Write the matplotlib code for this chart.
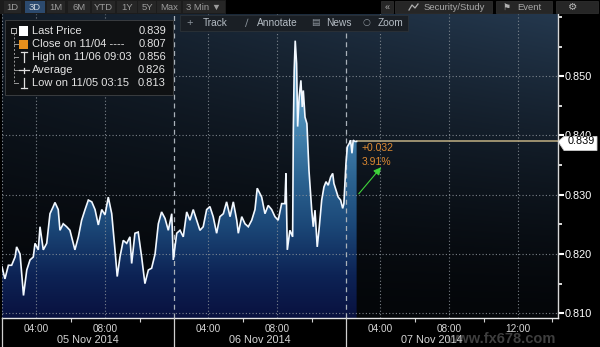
import numpy as np
import matplotlib
matplotlib.use("Agg")
import matplotlib.pyplot as plt
from matplotlib.colors import LinearSegmentedColormap
from matplotlib.patches import Rectangle, Polygon
from matplotlib.lines import Line2D
import matplotlib.transforms as mtransforms

plt.rcParams['font.family'] = ['Liberation Sans', 'DejaVu Sans']

# ---------------- data ----------------
# session hours since 05 Nov 02:00 (sessions 02:00-12:00 each day)
hours = [0.00, 0.17, 0.37, 0.56, 0.76, 0.85, 1.05, 1.25, 1.44, 1.63, 1.82, 1.92, 2.11, 2.21,
         2.40, 2.60, 2.79, 2.98, 3.08, 3.27, 3.37, 3.56, 3.76, 3.95, 4.24, 4.44, 4.63, 4.83,
         5.02, 5.22, 5.41, 5.60, 5.80, 5.99, 6.18, 6.38, 6.57, 6.70, 6.86, 7.05, 7.25, 7.44,
         7.54, 7.73, 7.92, 8.12, 8.31, 8.51, 8.70, 8.90, 9.09, 9.28, 9.48, 9.67, 9.87, 9.96,
         10.16, 10.35, 10.54, 10.74, 10.93, 11.12, 11.32, 11.51, 11.70, 11.90, 12.09, 12.28,
         12.48, 12.67, 12.87, 13.06, 13.26, 13.45, 13.65, 13.74, 13.94, 14.13, 14.32, 14.52,
         14.71, 14.84, 15.10, 15.29, 15.48, 15.68, 15.87, 16.06, 16.26, 16.45, 16.51, 16.59,
         16.74, 16.90, 16.94, 16.99, 17.05, 17.13, 17.19, 17.28, 17.38, 17.46, 17.52, 17.62,
         17.73, 17.85, 18.01, 18.10, 18.20, 18.33, 18.45, 18.59, 18.72, 18.84, 18.97, 19.11,
         19.23, 19.30, 19.42, 19.55, 19.69, 19.81, 19.88, 20.00, 20.08, 20.20, 20.27, 20.35,
         20.42, 20.52, 20.62]
prices = [0.8178, 0.8158, 0.8181, 0.8181, 0.8195, 0.8212, 0.8200, 0.8130, 0.8173, 0.8190,
          0.8195, 0.8218, 0.8207, 0.8246, 0.8207, 0.8218, 0.8268, 0.8280, 0.8287, 0.8275,
          0.8240, 0.8251, 0.8246, 0.8240, 0.8207, 0.8229, 0.8257, 0.8275, 0.8291, 0.8288,
          0.8275, 0.8249, 0.8275, 0.8266, 0.8296, 0.8268, 0.8207, 0.8162, 0.8195, 0.8223,
          0.8218, 0.8229, 0.8184, 0.8235, 0.8237, 0.8195, 0.8150, 0.8173, 0.8176, 0.8200,
          0.8251, 0.8271, 0.8260, 0.8240, 0.8268, 0.8190, 0.8235, 0.8240, 0.8229, 0.8271,
          0.8257, 0.8275, 0.8257, 0.8240, 0.8246, 0.8275, 0.8280, 0.8263, 0.8235, 0.8263,
          0.8268, 0.8288, 0.8263, 0.8288, 0.8257, 0.8235, 0.8263, 0.8251, 0.8246, 0.8257,
          0.8275, 0.8311, 0.8296, 0.8268, 0.8282, 0.8275, 0.8263, 0.8257, 0.8285, 0.8285,
          0.8336, 0.8207, 0.8240, 0.8229, 0.8409, 0.8510, 0.8560, 0.8521, 0.8415, 0.8465,
          0.8493, 0.8448, 0.8476, 0.8431, 0.8420, 0.8341, 0.8274, 0.8246, 0.8274, 0.8212,
          0.8246, 0.8291, 0.8313, 0.8322, 0.8316, 0.8330, 0.8336, 0.8319, 0.8308, 0.8296,
          0.8291, 0.8277, 0.8285, 0.8353, 0.8381, 0.8387, 0.8392, 0.8370, 0.8392, 0.8390,
          0.8390]

last_price = 0.839
y_ticks = [0.810, 0.820, 0.830, 0.840, 0.850]
y_minor = [0.815, 0.825, 0.835, 0.845, 0.855, 0.860]
hour_ticks = [2, 6, 12, 16, 22, 26, 30]
hour_labels = ['04:00', '08:00', '04:00', '08:00', '04:00', '08:00', '12:00']
hour_minor = [4, 8, 14, 18, 24, 28, 32]
day_bounds = [10, 20]
day_centers = [5, 15, 25]
day_labels = ['05 Nov 2014', '06 Nov 2014', '07 Nov 2014']
legend_labels = ['Last Price', 'Close on 11/04 ----', 'High on 11/06 09:03', 'Average', 'Low on 11/05 03:15']
legend_values = ['0.839', '0.807', '0.856', '0.826', '0.813']
change_text = ['+0.032', '3.91%']

# ---------------- figure ----------------
W, H = 600, 347
fig = plt.figure(figsize=(W / 100, H / 100), dpi=100, facecolor='black')

def fx(x):
    return x / W

def fy(y):
    return 1 - y / H

ax = fig.add_axes([fx(2), fy(318), (558 - 2) / W, (318 - 14) / H])
xmin, xmax = 0, 32.33
ymin, ymax = 0.8092, 0.8605
ax.set_xlim(xmin, xmax)
ax.set_ylim(ymin, ymax)

# background gradient
ny, nx = 200, 200
yy = np.linspace(0, 1, ny)[:, None]
xx = np.linspace(0, 1, nx)[None, :]
f = (yy ** 1.4) * (0.45 + 0.55 * xx)
c0 = np.array([4, 6, 9]) / 255
c1 = np.array([36, 56, 78]) / 255
bg = c0[None, None, :] + (c1 - c0)[None, None, :] * f[:, :, None]
ax.imshow(bg, extent=[0, 1, 0, 1], transform=ax.transAxes, origin='lower',
          aspect='auto', zorder=0, interpolation='bilinear')

# area gradient fill
t = np.array(hours)
p = np.array(prices)
poly = ax.fill_between(t, p, ymin, color='none', lw=0)
fill_cmap = LinearSegmentedColormap.from_list('fill', [
    (0.0, '#09113f'), (0.14, '#0d2355'), (0.30, '#1b4777'),
    (0.45, '#2b6290'), (0.65, '#4a8ab5'), (1.0, '#7cbadd')])
grad = np.linspace(0, 1, 256)[:, None]
im = ax.imshow(grad, extent=[xmin, xmax, ymin, ymax], origin='lower', aspect='auto',
               cmap=fill_cmap, zorder=1, interpolation='bilinear')
im.set_clip_path(poly.get_paths()[0], transform=ax.transData)

# grid
grid_col = '#8d949b'
for yv in y_ticks:
    ax.axhline(yv, color=grid_col, lw=0.8, ls=(0, (1, 2)), zorder=2, alpha=0.85)
for xv in hour_ticks:
    ax.axvline(xv, color=grid_col, lw=0.8, ls=(0, (1, 2)), zorder=2, alpha=0.85)
for xv in day_bounds:
    ax.axvline(xv, color='#a9b1b9', lw=0.9, ls=(0, (4, 3)), zorder=2)
ax.axvline(0.02, color=grid_col, lw=0.8, ls=(0, (1, 2)), zorder=2)

# price line
ax.plot(t, p, color='#f2f8ff', lw=1.2, zorder=4, solid_joinstyle='miter')

# last price line
ax.plot([t[-1], xmax], [last_price, last_price], color='#b3a47c', lw=1.2, zorder=3)

# change annotation
ax.annotate('', xy=(22.15, 0.8350), xytext=(20.64, 0.8298),
            arrowprops=dict(arrowstyle='-|>', color='#3fd43a', lw=0.8, mutation_scale=11),
            zorder=5)
ax.text(20.93, 0.8379, change_text[0], color='#dd8a32', fontsize=7.5, va='center', ha='left', zorder=6)
ax.text(20.93, 0.8355, change_text[1], color='#dd8a32', fontsize=7.5, va='center', ha='left', zorder=6)

# axes styling
for s in ['left', 'top']:
    ax.spines[s].set_visible(False)
ax.spines['right'].set_color('#d8d8d8')
ax.spines['right'].set_linewidth(1.0)
ax.spines['bottom'].set_color('#e8e8e8')
ax.spines['bottom'].set_linewidth(1.0)
ax.yaxis.tick_right()
ax.set_yticks(y_ticks)
ax.set_yticklabels([f'{v:.3f}' for v in y_ticks])
ax.set_yticks(y_minor, minor=True)
ax.tick_params(axis='y', which='major', colors='white', labelcolor='white', labelsize=7.8,
               length=4, width=1.5, pad=1)
ax.tick_params(axis='y', which='minor', colors='white', length=3, width=1.2)
ax.set_xticks(hour_ticks)
ax.set_xticklabels(hour_labels)
ax.set_xticks(hour_minor, minor=True)
ax.tick_params(axis='x', which='major', length=0, labelcolor='#d6d6d6', labelsize=7.2, pad=4)
ax.tick_params(axis='x', which='minor', colors='#d0d0d0', length=3, width=0.8)

# watermark (drawn first so the axis texts sit on top)
fig.text(fx(446), fy(339), 'www.fx678.com', color='#8a8a8a', alpha=0.45, fontsize=10.5,
         fontweight='bold', ha='left', va='center', zorder=0)

# day labels and separators in the axis area
blend = mtransforms.blended_transform_factory(ax.transData, fig.transFigure)
for xc, lab in zip(day_centers, day_labels):
    ax.text(xc, fy(340), lab, transform=blend, color='#d6d6d6', fontsize=7.8,
            ha='center', va='center', zorder=6, clip_on=False)
for xv in [0.0] + day_bounds:
    fig.add_artist(Line2D([xv, xv], [0, fy(318)], transform=blend, color='#cfcfcf', lw=0.9))

# last price box on right axis
yl = ax.transData.transform((0, last_price))[1] / (H)
box_pts = [(fx(558), yl), (fx(564), fy(136.5)), (fx(597), fy(136.5)),
           (fx(597), fy(150.5)), (fx(564), fy(150.5))]
fig.add_artist(Polygon(box_pts, closed=True, facecolor='white', edgecolor='#cccccc', lw=0.6))
fig.text(fx(581), yl, '0.839', color='black', fontsize=7.8, ha='center', va='center')

# ---------------- toolbar row 1 ----------------
fig.add_artist(Rectangle((fx(0), fy(14)), fx(226), 14 / H, facecolor='#1c1c1c', edgecolor='none'))
btns = [('1D', 4, 21), ('3D', 25, 45), ('1M', 47, 65), ('6M', 68, 90), ('YTD', 92, 115),
        ('1Y', 117, 137), ('5Y', 138, 156), ('Max', 157, 181), ('3 Min \u25bc', 183, 225)]
for lab, x0, x1 in btns:
    fc = '#2c4a6e' if lab == '3D' else '#262626'
    fig.add_artist(Rectangle((fx(x0), fy(13)), fx(x1 - x0), 12 / H, facecolor=fc, edgecolor='none'))
    fig.text(fx((x0 + x1) / 2), fy(7), lab, color='#c8d2dc' if lab == '3D' else '#9c9c9c',
             fontsize=6.8, ha='center', va='center')

rbtns = [('\u00ab', 381, 393), ('Security/Study', 395, 492), ('Event', 496, 552), ('\u2699', 556, 598)]
for lab, x0, x1 in rbtns:
    fig.add_artist(Rectangle((fx(x0), fy(13)), fx(x1 - x0), 12 / H, facecolor='#262626', edgecolor='#333333', lw=0.5))
fig.text(fx(387), fy(7.5), '\u00ab', color='#b0b0b0', fontsize=6.5, ha='center', va='center')
fig.text(fx(424), fy(7), 'Security/Study', color='#a8a8a8', fontsize=6.8, ha='left', va='center')
fig.add_artist(Line2D([fx(409), fx(412), fx(415), fx(418)], [fy(10), fy(5), fy(8), fy(4)],
                      color='#b0b0b0', lw=0.9))
fig.text(fx(517), fy(7), 'Event', color='#a8a8a8', fontsize=6.8, ha='left', va='center')
fig.text(fx(507), fy(7), '\u2691', color='#b0b0b0', fontsize=6.5, ha='center', va='center',
         family=['DejaVu Sans'])
fig.text(fx(573), fy(7), '\u2699', color='#b8b8b8', fontsize=7.5, ha='center', va='center',
         family=['DejaVu Sans'])

# ---------------- toolbar row 2 ----------------
fig.add_artist(Rectangle((fx(180), fy(31)), fx(228), 16 / H, facecolor='#1a1f25', edgecolor='#2c3238', lw=0.6))
fig.text(fx(190), fy(23), '+', color='#8c949c', fontsize=8, ha='center', va='center')
fig.text(fx(203), fy(23), 'Track', color='#b4bcc4', fontsize=7.3, ha='left', va='center')
fig.text(fx(247), fy(23), '\u2215', color='#8c949c', fontsize=7.5, ha='center', va='center',
         family=['DejaVu Sans'])
fig.text(fx(257), fy(23), 'Annotate', color='#b4bcc4', fontsize=7.3, ha='left', va='center')
fig.text(fx(315), fy(23), '\u25a4', color='#8c949c', fontsize=6.5, ha='center', va='center',
         family=['DejaVu Sans'])
fig.text(fx(326), fy(23), 'News', color='#b4bcc4', fontsize=7.3, ha='left', va='center')
fig.text(fx(366), fy(23), '\u25cb', color='#8c949c', fontsize=6.5, ha='center', va='center',
         family=['DejaVu Sans'])
fig.text(fx(378), fy(23), 'Zoom', color='#b4bcc4', fontsize=7.3, ha='left', va='center')

# ---------------- legend box ----------------
fig.add_artist(Rectangle((fx(5), fy(95)), fx(168), 75 / H, facecolor='#0f1113', edgecolor='#3a3d40', lw=0.7))
rows_y = [31, 44, 57, 70, 83]
for yv, lab, val in zip(rows_y, legend_labels, legend_values):
    fig.text(fx(32), fy(yv), lab, color='#e4e4e4', fontsize=8, ha='left', va='center')
    fig.text(fx(166), fy(yv), val, color='#e4e4e4', fontsize=8, ha='right', va='center')
# tree
fig.add_artist(Rectangle((fx(11), fy(33)), fx(5), 5 / H, facecolor='none', edgecolor='#bdbdbd', lw=0.7))
fig.add_artist(Line2D([fx(13.5), fx(13.5)], [fy(33), fy(83)], color='#9a9a9a', lw=0.7, ls=(0, (2, 2))))
for yv in rows_y[1:]:
    fig.add_artist(Line2D([fx(13.5), fx(18)], [fy(yv), fy(yv)], color='#9a9a9a', lw=0.7))
# icons
fig.add_artist(Rectangle((fx(19), fy(35.5)), fx(9), 9 / H, facecolor='white', edgecolor='none'))
fig.add_artist(Rectangle((fx(19), fy(48.5)), fx(9), 9 / H, facecolor='#e8901c', edgecolor='none'))
fig.add_artist(Line2D([fx(21), fx(27)], [fy(52), fy(52)], color='#e0e0e0', lw=0.9))
fig.add_artist(Line2D([fx(24), fx(24)], [fy(52), fy(62)], color='#e0e0e0', lw=0.9))
fig.add_artist(Line2D([fx(19), fx(29)], [fy(70), fy(70)], color='#e0e0e0', lw=0.9))
fig.add_artist(Line2D([fx(24), fx(24)], [fy(67.5), fy(72.5)], color='#e0e0e0', lw=0.9))
fig.add_artist(Line2D([fx(24), fx(24)], [fy(78), fy(88)], color='#e0e0e0', lw=0.9))
fig.add_artist(Line2D([fx(21), fx(27)], [fy(88), fy(88)], color='#e0e0e0', lw=0.9))

fig.savefig('out.png', dpi=100, facecolor='black')
